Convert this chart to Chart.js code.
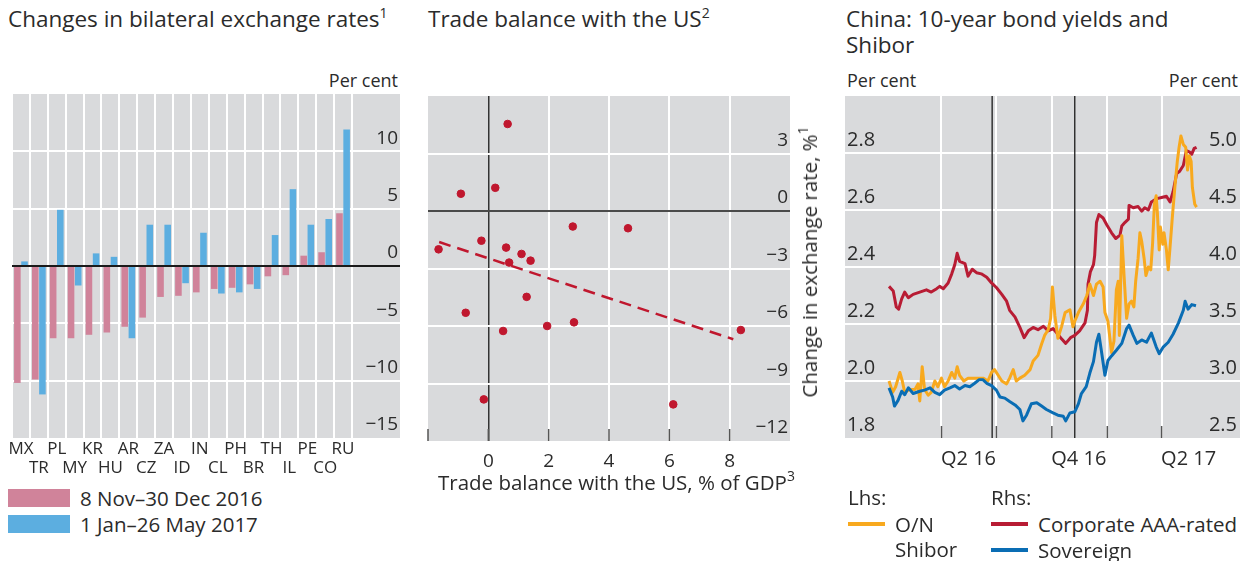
<!DOCTYPE html>
<html>
<head>
<meta charset="utf-8">
<script src="https://cdn.jsdelivr.net/npm/chart.js@4.4.1/dist/chart.umd.min.js"></script>
<style>
  body { margin: 0; width: 1246px; height: 561px; background: #fff; position: relative; overflow: hidden;
         font-family: 'Open Sans', sans-serif; color: #2b2b2b; }
  .abs { position: absolute; white-space: nowrap; }
  .title { font-size: 22.5px; line-height: 26px; }
  .unit { font-size: 18px; line-height: 22px; }
  .lbl { font-size: 20.5px; line-height: 24px; }
  sup { font-size: 14px; line-height: 0; vertical-align: 9px; }
  .sw { position: absolute; }
  canvas { position: absolute; top: 0; }
</style>
</head>
<body>
<div class="abs title" style="left:8px; top:6px;">Changes in bilateral exchange rates<sup>1</sup></div>
<div class="abs title" style="left:428px; top:6px;">Trade balance with the US<sup>2</sup></div>
<div class="abs title" style="left:846px; top:6px;">China: 10-year bond yields and<br>Shibor</div>

<div class="abs unit" style="right:848px; top:69px;">Per cent</div>
<div class="abs unit" style="left:847px; top:69px;">Per cent</div>
<div class="abs unit" style="right:8px; top:69px;">Per cent</div>

<canvas id="fx" width="412" height="480" style="left:0;"></canvas>
<canvas id="trade" width="400" height="480" style="left:412px;"></canvas>
<canvas id="china" width="416" height="480" style="left:830px;"></canvas>

<!-- left legend -->
<div class="sw" style="left:8px; top:489px; width:62px; height:18px; background:#d0839a;"></div>
<div class="abs lbl" style="left:80px; top:486px;">8 Nov–30 Dec 2016</div>
<div class="sw" style="left:8px; top:515px; width:62px; height:18px; background:#5caee0;"></div>
<div class="abs lbl" style="left:80px; top:512px;">1 Jan–26 May 2017</div>

<!-- middle axis titles -->
<div class="abs lbl" style="left:438px; top:470px;">Trade balance with the US, % of GDP<sup>3</sup></div>
<div class="abs lbl" style="left:809px; top:262px; transform:translate(-50%,-50%) rotate(-90deg);">Change in exchange rate, %<sup>1</sup></div>

<!-- right legend -->
<div class="abs lbl" style="left:848px; top:485px;">Lhs:</div>
<div class="sw" style="left:848px; top:522px; width:37px; height:4px; background:#f8a91e;"></div>
<div class="abs lbl" style="left:895px; top:512px; line-height:25px;">O/N<br>Shibor</div>
<div class="abs lbl" style="left:991px; top:485px;">Rhs:</div>
<div class="sw" style="left:991px; top:522px; width:37px; height:4px; background:#b81c34;"></div>
<div class="abs lbl" style="left:1038px; top:512px;">Corporate AAA-rated</div>
<div class="sw" style="left:991px; top:548px; width:37px; height:4px; background:#0a6db4;"></div>
<div class="abs lbl" style="left:1038px; top:538px;">Sovereign</div>

<script>
// ---- Changes in bilateral exchange rates (per cent)
const countryCodes = ['MX', 'TR', 'PL', 'MY', 'KR', 'HU', 'AR', 'CZ', 'ZA', 'ID',
                      'IN', 'CL', 'PH', 'BR', 'TH', 'IL', 'PE', 'CO', 'RU'];
const novDec = [-10.2, -9.9, -6.3, -6.3, -6.0, -5.8, -5.3, -4.5, -2.7, -2.6,
                -2.3, -2.0, -1.9, -1.6, -0.9, -0.8, 0.9, 1.2, 4.6];
const janMay = [0.4, -11.2, 4.9, -1.7, 1.1, 0.8, -6.3, 3.6, 3.6, -1.5,
                2.9, -2.4, -2.3, -2.0, 2.7, 6.7, 3.6, 4.1, 11.9];

// ---- Trade balance with the US vs change in exchange rate
const tradeBalance = [0.64, -0.91, 0.23, 2.80, 4.63, -1.65, -0.23, 0.59, 1.10, 1.40,
                      0.69, -0.75, 1.27, 0.49, 1.95, 2.84, 8.37, -0.15, 6.13];
const fxChange = [4.54, 0.90, 1.21, -0.81, -0.90, -2.00, -1.55, -1.91, -2.24, -2.59,
                  -2.69, -5.31, -4.48, -6.26, -6.00, -5.81, -6.21, -9.83, -10.09];
const trendX = [-1.63, 8.12];
const trendY = [-1.62, -6.69];

// ---- China: days counted from 1 Jan 2016
const quarterStarts = [91, 182, 274, 366, 456];
const quarterLabels = ['Q2 16', '', 'Q4 16', '', 'Q2 17'];
const eventDays = [175, 312];

const shiborDays = [4, 10, 15, 22, 26, 30, 38, 47, 52, 55, 59, 63, 69, 74, 80, 85, 91, 96, 102, 108,
  113, 117, 121, 128, 135, 143, 152, 160, 168, 174, 179, 185, 191, 199, 204, 210, 215, 221, 229, 238,
  243, 251, 257, 262, 268, 272, 275, 279, 284, 290, 296, 304, 309, 312, 318, 326, 332, 337, 343, 348,
  354, 359, 362, 367, 373, 377, 381, 384, 386, 390, 394, 398, 402, 406, 410, 413, 417, 420, 423, 427,
  430, 434, 438, 441, 444, 447, 449, 452, 454, 458, 460, 464, 467, 470, 474, 478, 482, 485, 488, 492,
  496, 499, 502, 505, 507, 511, 514];
const shiborRates = [2.00, 1.96, 1.98, 2.03, 2.00, 1.96, 1.97, 1.97, 1.99, 1.93, 2.05, 1.97, 1.95, 1.96, 2.00, 1.98, 2.01, 1.98, 2.00, 2.03,
  2.01, 2.05, 2.02, 2.00, 2.01, 2.01, 2.01, 2.01, 2.00, 2.03, 2.04, 2.02, 2.00, 1.99, 2.01, 2.04, 2.00, 2.01, 2.02, 2.04,
  2.07, 2.09, 2.13, 2.16, 2.18, 2.22, 2.33, 2.23, 2.15, 2.19, 2.24, 2.25, 2.19, 2.21, 2.24, 2.27, 2.30, 2.34, 2.30, 2.34,
  2.35, 2.33, 2.24, 2.21, 2.10, 2.14, 2.32, 2.35, 2.16, 2.51, 2.36, 2.22, 2.27, 2.28, 2.26, 2.35, 2.43, 2.52, 2.49, 2.43,
  2.37, 2.40, 2.39, 2.48, 2.62, 2.65, 2.59, 2.46, 2.54, 2.48, 2.52, 2.46, 2.39, 2.47, 2.58, 2.68, 2.77, 2.82, 2.86, 2.83,
  2.82, 2.74, 2.79, 2.77, 2.68, 2.62, 2.61];

const corpDays = [4, 11, 16, 20, 25, 30, 36, 44, 55, 66, 74, 83, 88, 94, 102, 108, 113, 117, 121, 130,
  135, 142, 149, 157, 166, 174, 182, 191, 199, 204, 213, 221, 228, 235, 243, 251, 260, 268, 276, 284,
  290, 297, 305, 312, 320, 329, 333, 334, 338, 343, 345, 348, 352, 359, 365, 373, 380, 387, 390, 395,
  401, 402, 409, 417, 423, 428, 434, 439, 448, 456, 464, 470, 475, 481, 486, 492, 497, 502, 506, 510, 514];
const corpYields = [3.83, 3.79, 3.65, 3.63, 3.72, 3.78, 3.73, 3.76, 3.78, 3.80, 3.78, 3.81, 3.83, 3.81, 3.86, 3.94, 4.02, 4.12, 4.05, 4.03,
  3.92, 3.98, 3.95, 3.94, 3.91, 3.86, 3.82, 3.76, 3.70, 3.62, 3.56, 3.47, 3.38, 3.44, 3.47, 3.45, 3.48, 3.44, 3.46, 3.41,
  3.37, 3.33, 3.38, 3.40, 3.44, 3.51, 3.62, 3.85, 3.96, 4.02, 4.10, 4.39, 4.46, 4.43, 4.37, 4.30, 4.25, 4.28, 4.36, 4.39,
  4.42, 4.54, 4.52, 4.53, 4.49, 4.52, 4.50, 4.57, 4.60, 4.61, 4.62, 4.57, 4.66, 4.82, 4.84, 4.89, 5.02, 5.01, 4.99, 5.04, 5.05];

const sovDays = [4, 10, 13, 19, 25, 30, 36, 44, 55, 63, 72, 80, 88, 96, 105, 113, 121, 130, 138, 146,
  153, 160, 166, 174, 182, 188, 196, 204, 213, 221, 226, 232, 240, 249, 257, 265, 276, 284, 293, 297,
  304, 312, 318, 323, 331, 337, 343, 348, 352, 356, 362, 367, 373, 381, 390, 398, 402, 409, 415, 423,
  431, 439, 447, 452, 459, 467, 475, 484, 492, 495, 500, 506, 513];
const sovYields = [2.94, 2.86, 2.78, 2.83, 2.91, 2.88, 2.94, 2.89, 2.91, 2.92, 2.94, 2.90, 2.88, 2.92, 2.94, 2.96, 2.93, 2.96, 2.95, 2.98,
  3.01, 3.01, 2.98, 2.96, 2.92, 2.86, 2.85, 2.82, 2.79, 2.75, 2.65, 2.70, 2.80, 2.81, 2.78, 2.75, 2.72, 2.70, 2.69, 2.65,
  2.72, 2.73, 2.80, 2.89, 2.95, 3.07, 3.17, 3.34, 3.41, 3.27, 3.05, 3.18, 3.22, 3.27, 3.33, 3.46, 3.49, 3.40, 3.33, 3.36,
  3.34, 3.42, 3.30, 3.24, 3.30, 3.34, 3.41, 3.51, 3.62, 3.70, 3.63, 3.67, 3.66];

const GRAY = '#d9dadc';
const PINK = '#d0839a';
const BLUE = '#5caee0';
const RED = '#c0172e';
const TEXT = '#2b2b2b';

Chart.defaults.font.family = "'Open Sans', sans-serif";
Chart.defaults.color = TEXT;

const minus = (v) => (v < 0 ? '\u2212' + Math.abs(v) : String(v));
const zip = (xs, ys) => xs.map((x, i) => ({ x: x, y: ys[i] }));

// grey plot background, optionally stretched over the right-hand label column
const grayBg = {
    id: 'grayBg',
    beforeDraw(chart, args, opts) {
        const { ctx, chartArea } = chart;
        const right = opts.extendTo ? chart.scales[opts.extendTo].right + (opts.extra || 0) : chartArea.right;
        ctx.save();
        ctx.fillStyle = GRAY;
        ctx.fillRect(chartArea.left, chartArea.top, right - chartArea.left, chartArea.bottom - chartArea.top);
        ctx.restore();
    }
};

// short dark tick marks pointing up into the plot from the bottom edge
const innerTicks = {
    id: 'innerTicks',
    afterDraw(chart) {
        const { ctx, chartArea } = chart;
        const sx = chart.scales.x;
        ctx.save();
        ctx.strokeStyle = '#555';
        ctx.lineWidth = 1.5;
        sx.ticks.forEach((t, i) => {
            const px = sx.getPixelForTick(i);
            if (px > chartArea.right - 2) return;
            ctx.beginPath();
            ctx.moveTo(px, chartArea.bottom);
            ctx.lineTo(px, chartArea.bottom - 12);
            ctx.stroke();
        });
        ctx.restore();
    }
};

// ---------------- Panel 1: bars
new Chart(document.getElementById('fx'), {
    type: 'bar',
    data: {
        labels: countryCodes,
        datasets: [
            { label: '8 Nov–30 Dec 2016', data: novDec, backgroundColor: PINK, categoryPercentage: 0.8, barPercentage: 0.92 },
            { label: '1 Jan–26 May 2017', data: janMay, backgroundColor: BLUE, categoryPercentage: 0.8, barPercentage: 0.92 }
        ]
    },
    options: {
        responsive: false,
        animation: false,
        layout: { padding: { top: 94, left: 12, right: 14, bottom: 0 } },
        plugins: { legend: { display: false }, tooltip: { enabled: false }, grayBg: { extendTo: 'y', extra: 2 } },
        scales: {
            x: {
                grid: { color: '#fff', lineWidth: 2, drawTicks: false, offset: true },
                border: { display: false },
                ticks: {
                    autoSkip: false, maxRotation: 0, padding: 1,
                    font: { size: 17, lineHeight: 1.147 },
                    callback: (v, i) => (i % 2 ? ['', countryCodes[i]] : countryCodes[i])
                },
                afterFit: (s) => { s.height = 42; }
            },
            y: {
                position: 'right', min: -15, max: 15,
                grid: {
                    color: (c) => (c.tick.value === 0 ? '#1a1a1a' : (Math.abs(c.tick.value) === 15 ? 'rgba(0,0,0,0)' : '#fff')),
                    tickColor: (c) => (c.tick.value === 0 ? '#1a1a1a' : (Math.abs(c.tick.value) === 15 ? 'rgba(0,0,0,0)' : '#fff')),
                    lineWidth: 2, tickLength: 48
                },
                border: { display: false },
                ticks: {
                    stepSize: 5, crossAlign: 'far', labelOffset: -13, font: { size: 19 },
                    callback: (v) => (v === 15 ? '' : minus(v))
                },
                afterFit: (s) => { s.width = 46; }
            }
        }
    },
    plugins: [grayBg]
});

// ---------------- Panel 2: scatter
new Chart(document.getElementById('trade'), {
    type: 'scatter',
    data: {
        datasets: [
            { type: 'line', data: zip(trendX, trendY), borderColor: RED, borderWidth: 2.5, borderDash: [12, 7], pointRadius: 0, fill: false },
            { type: 'scatter', data: zip(tradeBalance, fxChange), backgroundColor: RED, borderColor: RED, pointRadius: 3.8, pointHoverRadius: 3.8 }
        ]
    },
    options: {
        responsive: false,
        animation: false,
        layout: { padding: { top: 96, left: 16, right: 22, bottom: 0 } },
        plugins: { legend: { display: false }, tooltip: { enabled: false } },
        scales: {
            x: {
                type: 'linear', min: -2, max: 10,
                grid: {
                    color: (c) => (c.tick.value === 0 ? '#333' : (c.tick.value === -2 || c.tick.value === 10 ? 'rgba(0,0,0,0)' : '#fff')),
                    lineWidth: (c) => (c.tick.value === 0 ? 1.5 : 2),
                    drawTicks: false
                },
                border: { display: false },
                ticks: { stepSize: 2, padding: 9, font: { size: 19 }, callback: (v) => (v === -2 || v === 10 ? '' : minus(v)) },
                afterFit: (s) => { s.height = 39; }
            },
            y: {
                position: 'right', min: -12, max: 6,
                grid: {
                    color: (c) => (c.tick.value === 0 ? '#4a4a4a' : (c.tick.value === -12 || c.tick.value === 6 ? 'rgba(0,0,0,0)' : '#fff')),
                    lineWidth: 2, drawTicks: false
                },
                border: { display: false },
                ticks: { stepSize: 3, mirror: true, padding: -2, labelOffset: -13, font: { size: 19 }, callback: (v) => (v === 6 ? '' : minus(v)) },
                afterFit: (s) => { s.width = 0; }
            }
        }
    },
    plugins: [grayBg, innerTicks]
});

// ---------------- Panel 3: China yields
const lineStyle = { pointRadius: 0, borderWidth: 3, fill: false, tension: 0, borderJoinStyle: 'round' };
new Chart(document.getElementById('china'), {
    type: 'line',
    data: {
        datasets: [
            Object.assign({ data: zip(sovDays, sovYields), borderColor: '#0a6db4', yAxisID: 'y2' }, lineStyle),
            Object.assign({ data: zip(shiborDays, shiborRates), borderColor: '#f8a91e', yAxisID: 'y' }, lineStyle),
            Object.assign({ data: zip(corpDays, corpYields), borderColor: '#b81c34', yAxisID: 'y2' }, lineStyle),
            { data: [{ x: eventDays[0], y: 1.8 }, { x: eventDays[0], y: 3.0 }], borderColor: '#1a1a1a', borderWidth: 1.3, pointRadius: 0, yAxisID: 'y' },
            { data: [{ x: eventDays[1], y: 1.8 }, { x: eventDays[1], y: 3.0 }], borderColor: '#1a1a1a', borderWidth: 1.3, pointRadius: 0, yAxisID: 'y' }
        ]
    },
    options: {
        responsive: false,
        animation: false,
        layout: { padding: { top: 96, left: 15, right: 6, bottom: 0 } },
        plugins: { legend: { display: false }, tooltip: { enabled: false } },
        scales: {
            x: {
                type: 'linear', min: -69, max: 586,
                afterBuildTicks: (s) => { s.ticks = quarterStarts.map((v) => ({ value: v })); },
                grid: { color: '#fff', lineWidth: 2, drawTicks: false },
                border: { display: false },
                ticks: {
                    autoSkip: false, maxRotation: 0, padding: 9, labelOffset: 27, font: { size: 20 },
                    callback: (v) => quarterLabels[quarterStarts.indexOf(v)] || ''
                },
                afterFit: (s) => { s.height = 42; }
            },
            y: {
                position: 'left', min: 1.8, max: 3.0,
                grid: {
                    color: (c) => (c.tick.value < 1.85 || c.tick.value > 2.95 ? 'rgba(0,0,0,0)' : '#fff'),
                    lineWidth: 2, drawTicks: false
                },
                border: { display: false },
                ticks: { stepSize: 0.2, mirror: true, padding: 2, labelOffset: -13, font: { size: 20 },
                         callback: (v) => (v > 2.95 ? '' : v.toFixed(1)) },
                afterFit: (s) => { s.width = 0; }
            },
            y2: {
                position: 'right', min: 2.5, max: 5.5,
                grid: { display: false },
                border: { display: false },
                ticks: { stepSize: 0.5, mirror: true, padding: -3, labelOffset: -13, font: { size: 20 },
                         callback: (v) => (v > 5.4 ? '' : v.toFixed(1)) },
                afterFit: (s) => { s.width = 0; }
            }
        }
    },
    plugins: [grayBg, innerTicks]
});
</script>
</body>
</html>
